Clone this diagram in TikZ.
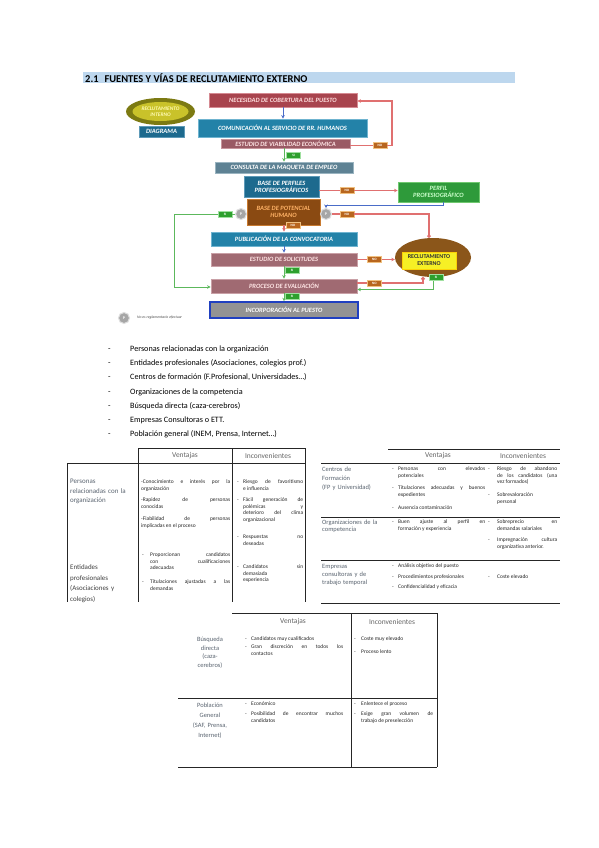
\documentclass[tikz,border=0pt]{standalone}
\usepackage{fontspec}
\setmainfont{Carlito}
\usetikzlibrary{arrows.meta,shapes.geometric,calc}
\definecolor{titlebar}{HTML}{BDD7EE}
\definecolor{necf}{HTML}{A8444E}
\definecolor{nece}{HTML}{D58A92}
\definecolor{comf}{HTML}{2382A8}
\definecolor{come}{HTML}{6FB4D0}
\definecolor{viaf}{HTML}{9A5A64}
\definecolor{viae}{HTML}{C8959C}
\definecolor{conf}{HTML}{5E8294}
\definecolor{cone}{HTML}{9AB4C0}
\definecolor{perff}{HTML}{1D6A8E}
\definecolor{perfe}{HTML}{5E9AB8}
\definecolor{potf}{HTML}{8A4A12}
\definecolor{pote}{HTML}{C87A30}
\definecolor{solf}{HTML}{A06A72}
\definecolor{sole}{HTML}{C9A0A6}
\definecolor{ppf}{HTML}{2E9A3A}
\definecolor{ppe}{HTML}{70C870}
\definecolor{extf}{HTML}{8B561A}
\definecolor{exty}{HTML}{F6F025}
\definecolor{intf}{HTML}{7C7A12}
\definecolor{inty}{HTML}{C9C22A}
\definecolor{incb}{HTML}{2040C0}
\definecolor{nofill}{HTML}{B8661E}
\definecolor{noedge}{HTML}{F0C080}
\definecolor{sifill}{HTML}{2EA02E}
\definecolor{siedge}{HTML}{A0E0A0}
\definecolor{rl}{HTML}{E07070}
\definecolor{gl}{HTML}{5CB85C}
\definecolor{bl}{HTML}{4A6CC8}
\definecolor{labc}{HTML}{5A6470}
\newcommand\Titem[6]{%
  \node[dsh] (#1d) at (#2,#4) {-};
  \node[tb, text width=#5bp] (#1) at (#3,#4) {#6};}
\newcommand\Litem[3]{%
  \node[li] (#1d) at (108,#2) {-};
  \node[li] (#1) at (130,#2) {#3};}
\begin{document}
\begin{tikzpicture}[x=1bp,y=-1bp,
  fc/.style={rectangle, inner sep=0pt, align=center, line width=0.8pt,
    font=\fontsize{6.5}{7}\selectfont\bfseries\itshape, text=white},
  nobox/.style={rectangle, fill=nofill, draw=noedge, line width=0.5pt,
    minimum width=14bp, minimum height=6bp, inner sep=0pt,
    font=\fontsize{3.4}{3.4}\selectfont\bfseries, text=white},
  sibox/.style={nobox, fill=sifill, draw=siedge},
  rline/.style={draw=rl, line width=1.3pt},
  gline/.style={draw=gl, line width=1pt},
  bline/.style={draw=bl, line width=1pt},
  tip/.style={-{Stealth[length=3.5bp,width=3.5bp]}},
  pcirc/.style={circle, fill=gray!70, draw=gray!25, line width=1pt,
    minimum size=11bp, inner sep=0pt, font=\fontsize{4}{4}\selectfont\bfseries, text=white},
  tl/.style={line width=0.9pt, draw=black!85},
  th/.style={inner sep=0pt, font=\fontsize{7.5}{8}\selectfont, text=black!60},
  lab/.style={anchor=base west, inner sep=0pt, align=left, text=labc},
  tb/.style={anchor=base west, inner sep=0pt, align=justify,
    font=\fontsize{5.5}{6.6}\selectfont, text=black!85,
    execute at begin node={\hyphenpenalty=10000\tolerance=10000}},
  dsh/.style={anchor=base west, inner sep=0pt, font=\fontsize{5.5}{6.6}\selectfont, text=black!85},
  li/.style={anchor=base west, inner sep=0pt, font=\fontsize{8.2}{8.2}\selectfont, text=black}
]
\useasboundingbox (0,0) rectangle (599,848);
\fill[white] (0,0) rectangle (599,848);

% ---------- title ----------
\node[fill=titlebar, minimum width=432bp, minimum height=11bp, anchor=west, inner sep=0pt] (bar) at (83,77.5) {};
\node[anchor=west, inner sep=0pt, font=\fontsize{10.5}{10.5}\selectfont\bfseries] (title) at (85,77.8)
  {2.1\hspace{6bp}FUENTES Y VÍAS DE RECLUTAMIENTO EXTERNO};

% ---------- flowchart nodes ----------
\node[ellipse, fill=intf, minimum width=69bp, minimum height=27bp, inner sep=0pt] (intE) at (160.5,111.5) {};
\node[ellipse, fill=inty, minimum width=56bp, minimum height=19bp, inner sep=0pt, align=center,
  font=\fontsize{5.4}{5.8}\selectfont\bfseries\itshape, text=yellow!30!white] (int) at (160.5,111.5) {RECLUTAMIENTO\\INTERNO};
\node[fc, fill=perff, draw=perfe, line width=0.5pt, minimum width=45bp, minimum height=11bp] (diag) at (161.5,131.5) {DIAGRAMA};

\node[fc, fill=necf, draw=nece, minimum width=148bp, minimum height=14bp, text=pink!50!white] (nec) at (283,100) {NECESIDAD DE COBERTURA DEL PUESTO};
\node[fc, fill=comf, draw=come, minimum width=169bp, minimum height=18bp] (com) at (282.5,128) {COMUNICACIÓN AL SERVICIO DE RR. HUMANOS};
\node[fc, fill=viaf, draw=viae, minimum width=129bp, minimum height=9bp, text=pink!40!white] (via) at (285.5,143.5) {ESTUDIO DE VIABILIDAD ECONÓMICA};
\node[fc, fill=conf, draw=cone, minimum width=138bp, minimum height=11bp] (con) at (284,167.5) {CONSULTA DE LA MAQUETA DE EMPLEO};
\node[fc, fill=perff, draw=perfe, minimum width=75bp, minimum height=21bp] (perf) at (281.5,186.5) {BASE DE PERFILES\\PROFESIOGRÁFICOS};
\node[fc, fill=potf, draw=pote, minimum width=73bp, minimum height=26bp, text=orange!60!white] (pot) at (283.5,212) {BASE DE POTENCIAL\\HUMANO};
\node[fc, fill=comf, draw=come, minimum width=146bp, minimum height=14bp] (pub) at (284,239) {PUBLICACIÓN DE LA CONVOCATORIA};
\node[fc, fill=solf, draw=sole, minimum width=146bp, minimum height=13bp, text=pink!40!white] (sol) at (284,259.5) {ESTUDIO DE SOLICITUDES};
\node[fc, fill=solf, draw=sole, minimum width=146bp, minimum height=14bp, text=pink!40!white] (pro) at (284,286) {PROCESO DE EVALUACIÓN};
\node[fc, fill=gray!85, draw=incb, line width=1.6pt, minimum width=148bp, minimum height=16bp] (inc) at (284,310) {INCORPORACIÓN AL PUESTO};
\node[fc, fill=ppf, draw=ppe, minimum width=81bp, minimum height=20bp, text=green!20!white] (pp) at (438.5,192) {PERFIL\\PROFESIOGRÁFICO};
\node[ellipse, fill=extf, minimum width=76bp, minimum height=39bp, inner sep=0pt] (extE) at (433,257.5) {};
\node[rectangle, fill=exty, draw=yellow!70!orange, line width=0.5pt, minimum width=54bp, minimum height=17bp, inner sep=0pt,
  align=center, font=\fontsize{6}{7}\selectfont\bfseries, text=black!80] (ext) at (429,260.5) {RECLUTAMIENTO\\EXTERNO};

\node[pcirc] (p1) at (241,214) {P};
\node[pcirc] (p2) at (326,214) {P};

% ---------- flowchart connectors ----------
\draw[bline, tip] (nec.south -| 283,0) -- (com.north -| 283,0);
\draw[gline, tip] (via.south -| con.north) -- (con.north);
\node[sibox] (si1) at (293.5,155.5) {SI};

\node[nobox] (no1) at (380,145.5) {NO};
\coordinate (c1) at (392,101);
\draw[rline] (via.east |- no1) -- (no1.west);
\draw[rline, tip] (no1.east) -| (c1) -- (nec.east |- c1);

\node[nobox] (no2) at (347,190.5) {NO};
\draw[rline] (perf.east |- no2) -- (no2.west);
\draw[rline, tip] (no2.east) -- (pp.west |- no2);

\coordinate (c2) at (443,205.5);
\draw[bline, tip] (c2 |- pp.south) -- (c2) -| (p2.north);

\draw[rline, tip] (pot.south -| pub.north) -- (pub.north);
\node[nobox] (no3) at (293,225) {NO};

\node[sibox] (si2) at (225,214) {SI};
\coordinate (c3) at (174,287);
\draw[gline] (p1.west) -- (si2.east);
\draw[gline, tip] (si2.west) -| (c3) -- (pro.west |- c3);

\node[nobox] (no4) at (347,214) {NO};
\coordinate (c4) at (429,214);
\draw[rline] (p2.east) -- (no4.west);
\draw[rline, -{Circle[length=3.5bp]}] (no4.east) -- (c4) -- (c4 |- extE.north);

\draw[bline, tip] (pub.south) -- (sol.north);

\node[nobox] (no5) at (374.5,259.5) {NO};
\draw[rline] (sol.east |- no5) -- (no5.west);
\draw[rline, tip] (no5.east) -- (extE.west |- no5);

\draw[gline, tip] (sol.south) -- (pro.north);
\node[sibox] (si3) at (292,270) {SI};

\node[nobox] (no6) at (374.5,283) {NO};
\coordinate (c5) at (423,283);
\coordinate (c6) at (423,277);
\draw[rline] (pro.east |- no6) -- (no6.west);
\draw[rline, -{Circle[length=3.5bp]}] (no6.east) -- (c5) -- (c6);

\coordinate (c7) at (433,289.5);
\coordinate (c8) at (433,279);
\draw[gline, tip] (c8) -- (c7) -- (pro.east |- c7);
\node[sibox] (si5) at (436,277) {SI};

\draw[gline, tip] (pro.south) -- (inc.north);
\node[sibox] (si4) at (292,296.5) {SI};

\node[pcirc] (leg) at (124,318) {P};
\node[anchor=west, inner sep=0pt, font=\fontsize{3.8}{4}\selectfont\itshape, text=black!70] (legt) at (137,318) {No es reglamentario efectuar};

% ---------- list ----------
\Litem{l1}{351.5}{Personas relacionadas con la organización}
\Litem{l2}{365.7}{Entidades profesionales (Asociaciones, colegios prof.)}
\Litem{l3}{379.9}{Centros de formación (F.Profesional, Universidades\ldots)}
\Litem{l4}{394.1}{Organizaciones de la competencia}
\Litem{l5}{408.3}{Búsqueda directa (caza-cerebros)}
\Litem{l6}{422.5}{Empresas Consultoras o ETT.}
\Litem{l7}{436.7}{Población general (INEM, Prensa, Internet\ldots)}

% ---------- table 1 ----------
\draw[tl] (138,448) -- (305,448);
\draw[tl] (67,463) -- (305,463);
\draw[tl] (138,448) -- (138,602);
\draw[tl] (232,448) -- (232,602);
\draw[tl] (305,448) -- (305,602);
\draw[tl] (67,463) -- (67,602);
\node[th] (t1hv) at (185,455.5) {Ventajas};
\node[th] (t1hi) at (268,455.5) {Inconvenientes};
\node[lab, text width=68bp, font=\fontsize{7}{9.6}\selectfont] (t1l1) at (70,483.5) {Personas\\relacionadas con la\\organización};
\node[lab, text width=68bp, font=\fontsize{7}{10.6}\selectfont, text=black!75] (t1l2) at (70,569.5) {Entidades\\profesionales\\(Asociaciones y\\colegios)};
\node[tb, text width=89bp] (t1v1) at (141,483.5) {-Conocimiento e interés por la\linebreak organización};
\node[tb, text width=89bp] (t1v2) at (141,501.5) {-Rapidez de personas\linebreak conocidas};
\node[tb, text width=89bp] (t1v3) at (141,520.5) {-Fiabilidad de personas\linebreak implicadas en el proceso};
\Titem{t1i1}{237}{243}{483.5}{60}{Riesgo de favoritismo\linebreak e influencia}
\Titem{t1i2}{237}{243}{501.5}{60}{Fácil generación de\linebreak polémicas y\linebreak deterioro del clima\linebreak organizacional}
\Titem{t1i3}{237}{243}{538.5}{60}{Respuestas no\linebreak deseadas}
\Titem{t1v4}{142}{150}{556.5}{80}{Proporcionan candidatos\linebreak con cualificaciones\linebreak adecuadas}
\Titem{t1v5}{142}{150}{583.5}{80}{Titulaciones ajustadas a las\linebreak demandas}
\Titem{t1i4}{237}{243}{568.5}{60}{Candidatos sin\linebreak demasiada\linebreak experiencia}

% ---------- table 2 ----------
\draw[tl] (388,449) -- (560,449);
\draw[tl] (321,463) -- (560,463);
\draw[tl] (321,517) -- (560,517);
\draw[tl] (321,560) -- (560,560);
\draw[tl] (321,603) -- (560,603);
\node[th] (t2hv) at (438,455.5) {Ventajas};
\node[th] (t2hi) at (523,455.5) {Inconvenientes};
\node[lab, text width=68bp, font=\fontsize{6.5}{9.5}\selectfont] (t2l1) at (322,471) {Centros de\\Formación\\(FP y Universidad)};
\node[lab, text width=68bp, font=\fontsize{6.5}{8}\selectfont] (t2l2) at (322,524) {Organizaciones de la\\competencia};
\node[lab, text width=68bp, font=\fontsize{6.5}{8.5}\selectfont] (t2l3) at (322,568) {Empresas\\consultoras y de\\trabajo temporal};
\Titem{t2v1}{392}{398}{470.5}{87}{Personas con elevados\linebreak potenciales}
\Titem{t2v2}{392}{398}{489.5}{87}{Titulaciones adecuadas y buenos\linebreak expedientes}
\Titem{t2v3}{392}{398}{509.5}{87}{Ausencia contaminación}
\Titem{t2v4}{392}{398}{523.5}{87}{Buen ajuste al perfil en\linebreak formación y experiencia}
\Titem{t2v5}{392}{398}{567.5}{87}{Análisis objetivo del puesto}
\Titem{t2v6}{392}{398}{578.5}{87}{Procedimientos profesionales}
\Titem{t2v7}{392}{398}{588.5}{87}{Confidencialidad y eficacia}
\Titem{t2i1}{488}{497}{470.5}{60}{Riesgo de abandono\linebreak de los candidatos (una\linebreak vez formados)}
\Titem{t2i2}{488}{497}{496.5}{60}{Sobrevaloración\linebreak personal}
\Titem{t2i3}{488}{497}{523.5}{60}{Sobreprecio en\linebreak demandas salariales}
\Titem{t2i4}{488}{497}{541.5}{60}{Impregnación cultura\linebreak organizativa anterior.}
\Titem{t2i5}{488}{497}{578.5}{60}{Coste elevado}

% ---------- table 3 ----------
\draw[tl] (232,613) -- (437,613);
\draw[tl] (178,698) -- (437,698);
\draw[tl] (178,767) -- (437,767);
\draw[tl] (351,613) -- (351,767);
\draw[tl] (437,613) -- (437,767);
\node[th] (t3hv) at (293,621.5) {Ventajas};
\node[th] (t3hi) at (392,621.5) {Inconvenientes};
\node[anchor=base, inner sep=0pt, align=center, text width=62bp, text=labc, font=\fontsize{6.5}{8.7}\selectfont] (t3l1) at (210,641.5) {Búsqueda\\directa\\(caza-\\cerebros)};
\node[anchor=base, inner sep=0pt, align=center, text width=62bp, text=labc, font=\fontsize{6.5}{10}\selectfont] (t3l2) at (210,707.5) {Población\\General\\(SAF, Prensa,\\Internet)};
\Titem{t3v1}{245}{251}{640.5}{92}{Candidatos muy cualificados}
\Titem{t3v2}{245}{251}{648.5}{92}{Gran discreción en todos los\linebreak contactos}
\Titem{t3v3}{245}{251}{705.5}{92}{Económico}
\Titem{t3v4}{245}{251}{715.5}{92}{Posibilidad de encontrar muchos\linebreak candidatos}
\Titem{t3i1}{354}{361}{640.5}{72}{Coste muy elevado}
\Titem{t3i2}{354}{361}{653}{72}{Proceso lento}
\Titem{t3i3}{354}{361}{705.5}{72}{Enlentece el proceso}
\Titem{t3i4}{354}{361}{715.5}{72}{Exige gran volumen de\linebreak trabajo de preselección}
\end{tikzpicture}
\end{document}
